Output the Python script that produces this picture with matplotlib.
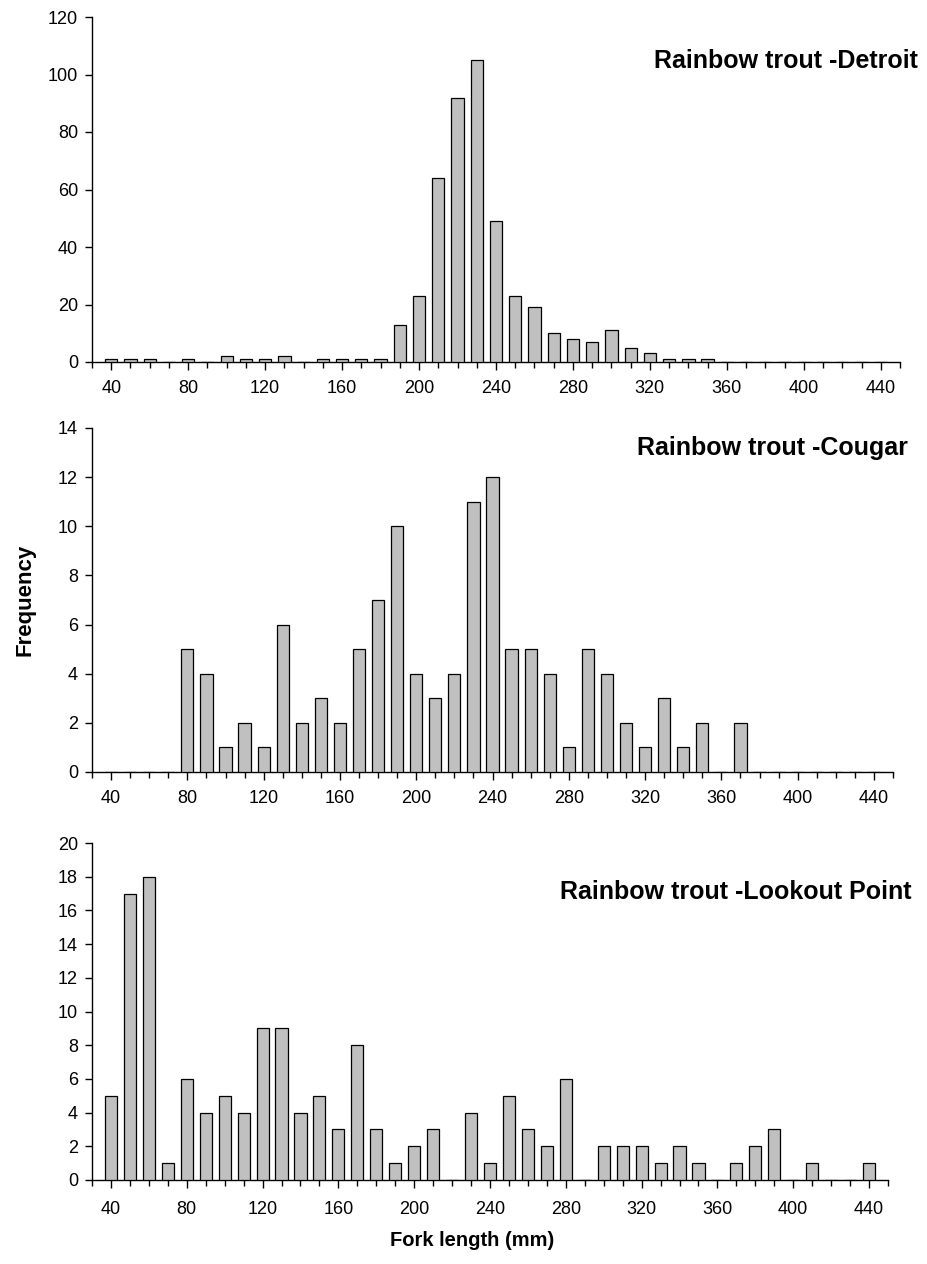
import matplotlib
matplotlib.use("Agg")
import matplotlib.pyplot as plt
import numpy as np

plt.rcParams['font.family'] = ['Liberation Sans', 'DejaVu Sans']

# Fork length classes (mm)
lengths = list(range(40, 450, 10))
tick_labels = [str(v) for v in range(40, 450, 40)]

detroit = [1, 1, 1, 0, 1, 0, 2, 1, 1, 2, 0, 1, 1, 1, 1, 13, 23, 64, 92, 105,
           49, 23, 19, 10, 8, 7, 11, 5, 3, 1, 1, 1, 0, 0, 0, 0, 0, 0, 0, 0, 0]
cougar = [0, 0, 0, 0, 5, 4, 1, 2, 1, 6, 2, 3, 2, 5, 7, 10, 4, 3, 4, 11,
          12, 5, 5, 4, 1, 5, 4, 2, 1, 3, 1, 2, 0, 2, 0, 0, 0, 0, 0, 0, 0]
lookout = [5, 17, 18, 1, 6, 4, 5, 4, 9, 9, 4, 5, 3, 8, 3, 1, 2, 3, 0, 4,
           1, 5, 3, 2, 6, 0, 2, 2, 2, 1, 2, 1, 0, 1, 2, 3, 0, 1, 0, 0, 1]

titles = ["Rainbow trout -Detroit", "Rainbow trout -Cougar",
          "Rainbow trout -Lookout Point"]

W, H = 927, 1264
fig = plt.figure(figsize=(W / 100, H / 100), dpi=100)

def fx(px):
    return px / W

def fy(py):
    return 1 - py / H

panels = [
    dict(data=detroit, ymax=120, ystep=20, l=92, r=900, t=17, b=362,
         title=titles[0], tx=918, ty=61),
    dict(data=cougar, ymax=14, ystep=2, l=92, r=893, t=428, b=772,
         title=titles[1], tx=908, ty=448),
    dict(data=lookout, ymax=20, ystep=2, l=92, r=888, t=843, b=1180,
         title=titles[2], tx=912, ty=892),
]

for i, p in enumerate(panels):
    ax = fig.add_axes([fx(p['l']), fy(p['b']), fx(p['r'] - p['l']),
                       (p['b'] - p['t']) / H])
    ax.bar(lengths, p['data'], width=6.4, color='#C0C0C0',
           edgecolor='black', linewidth=0.9, zorder=3)
    ax.set_xlim(30, 450)
    ax.set_ylim(0, p['ymax'])
    ax.set_yticks(np.arange(0, p['ymax'] + 0.1, p['ystep']))
    ax.set_xticks(list(range(40, 450, 40)))
    ax.set_xticklabels(tick_labels)
    ax.set_xticks(list(range(30, 460, 10)), minor=True)
    for s in ['top', 'right']:
        ax.spines[s].set_visible(False)
    for s in ['left', 'bottom']:
        ax.spines[s].set_linewidth(1.0)
        ax.spines[s].set_color('black')
    ax.tick_params(axis='y', direction='out', length=5, width=1,
                   labelsize=13, pad=5)
    ax.tick_params(axis='x', which='major', direction='out', length=6,
                   width=1, labelsize=13, pad=9 if i == 2 else 7)
    ax.tick_params(axis='x', which='minor', direction='out', length=4,
                   width=1)
    ax.yaxis.set_tick_params(which='minor', left=False)
    fig.text(fx(p['tx']), fy(p['ty']), p['title'], ha='right', va='center',
             fontsize=18, fontweight='bold')

fig.text(fx(25), fy(600), "Frequency", rotation=90, ha='center',
         va='center', fontsize=16, fontweight='bold')
fig.text(fx(472), fy(1241), "Fork length (mm)", ha='center', va='center',
         fontsize=14.5, fontweight='bold')

fig.savefig("out.png", dpi=100, facecolor='white')
